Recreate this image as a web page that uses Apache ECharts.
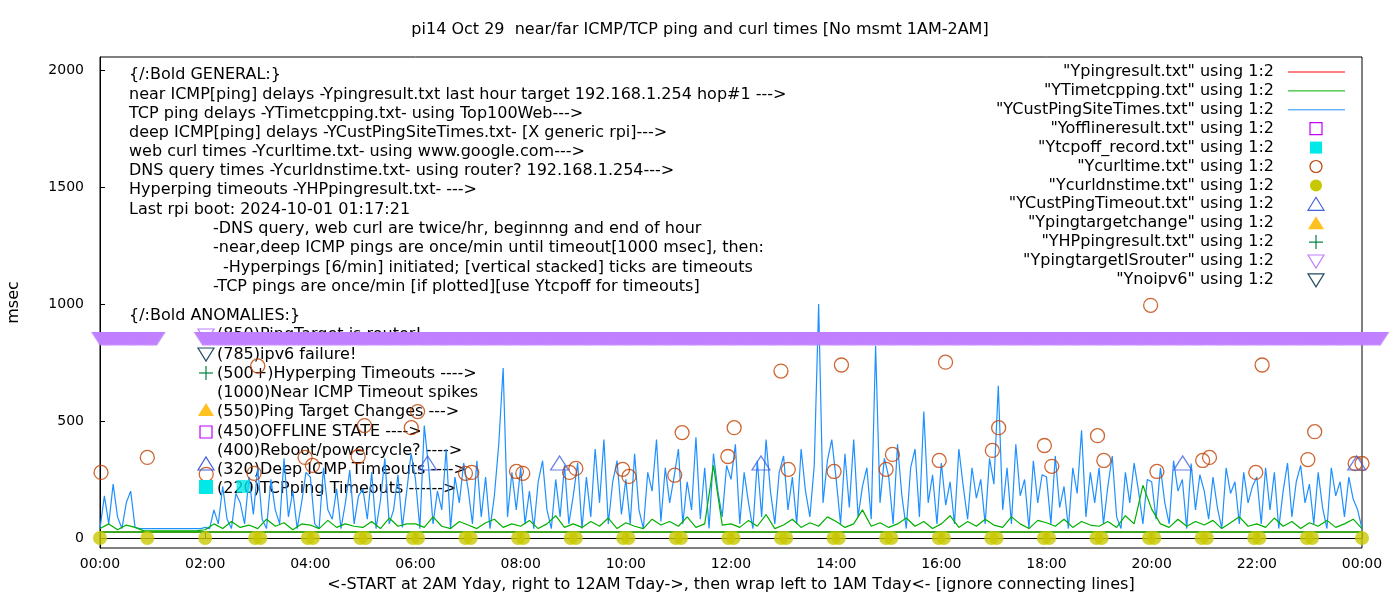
<!DOCTYPE html>
<html>
<head>
<meta charset="utf-8">
<script src="https://cdn.jsdelivr.net/npm/echarts@6/dist/echarts.min.js"></script>
<style>html,body{margin:0;padding:0;background:#fff}#main{width:1400px;height:600px}</style>
</head>
<body>
<div id="main"></div>
<script>
// deep ICMP (YCustPingSiteTimes), 5 min samples, hour by hour
var custPing = [
 40,180,60,230,90,40,150,200,45,40,40,40,
 40,40,40,40,40,40,40,40,40,40,40,40,
 45,40,120,60,220,80,40,190,150,60,260,100,
 300,80,40,250,120,60,340,90,200,40,150,280,
 260,60,40,300,120,80,210,40,150,290,60,180,
 210,80,280,40,160,340,60,120,270,45,200,360,
 250,40,480,300,60,200,120,380,40,260,150,320,
 210,60,330,90,260,40,180,400,726,90,280,120,
 300,60,200,40,240,330,120,40,250,90,310,60,
 180,320,40,260,90,380,150,420,60,240,330,100,
 250,60,360,120,40,280,200,420,70,300,150,260,
 380,60,240,120,430,80,300,40,360,200,90,310,
 250,400,60,280,150,40,330,90,420,200,60,280,
 350,120,260,60,380,200,90,310,1000,150,330,420,
 250,60,360,130,420,90,220,300,80,820,150,340,
 260,60,400,180,40,300,380,90,540,150,270,60,
 320,140,240,60,380,220,80,300,170,250,60,340,
 230,650,120,300,60,400,180,250,40,330,150,270,
 260,60,350,130,220,40,300,190,460,90,280,150,
 300,60,220,350,90,40,280,150,320,200,60,250,
 240,80,300,150,60,330,200,250,40,318,120,270,
 200,80,260,130,40,300,190,240,60,280,150,220,
 260,60,300,120,280,40,200,320,90,240,310,150,
 230,60,280,130,40,300,180,240,90,260,165,120,
 40
];
// TCP ping (YTimetcpping), 10 min samples
var tcpPing = [
 40,60,35,55,45,30, 30,30,30,30,30,30,
 35,60,40,70,45,55, 40,80,50,65,35,60,
 55,40,75,45,60,50, 45,70,40,85,50,60,
 60,45,90,50,40,70, 55,40,65,80,45,60,
 50,75,40,60,95,45, 60,45,70,50,85,40,
 65,50,40,80,55,70, 50,90,45,60,310,55,
 60,45,75,50,100,40, 55,80,45,65,50,90,
 70,45,60,120,50,65, 45,60,85,50,70,40,
 60,95,45,70,50,80, 55,45,90,60,40,75,
 65,50,80,45,70,55, 50,70,45,95,60,225,
 123,60,45,80,50,70, 55,75,40,65,90,50,
 60,45,85,50,70,40, 65,50,75,45,60,80,
 40
];
// near ICMP (Ypingresult), hourly, hidden under the TCP baseline
var nearPing = [25,25,25,25,25,25,25,25,25,25,25,25,25,25,25,25,25,25,25,25,25,25,25,25,25];
// web curl times [hour, msec]
var curlTimes = [
 [0.02,280],[0.9,344],[2.02,272],[2.93,276],[3.0,735],[3.9,344],[4.04,310],[4.91,348],
 [5.03,480],[5.92,471],[6.04,540],[6.95,276],[7.07,280],[7.92,284],[8.04,276],[8.93,280],
 [9.05,297],[9.94,293],[10.06,263],[10.93,268],[11.07,450],[11.94,348],[12.06,471],[12.95,713],
 [13.09,293],[13.96,284],[14.1,739],[14.95,293],[15.07,357],[15.96,331],[16.08,751],[16.97,374],
 [17.09,471],[17.96,395],[18.1,306],[18.97,437],[19.09,331],[19.98,994],[20.1,284],[20.97,331],
 [21.1,344],[21.98,280],[22.1,739],[22.97,335],[23.1,454],[23.87,318],[24.0,318]
];
// DNS query times (drawn at 0)
var dnsTimes = [0,0.9,2.0,2.95,3.05,3.95,4.05,4.95,5.05,5.95,6.05,6.95,7.05,7.95,8.05,8.95,9.05,
 9.95,10.05,10.95,11.05,11.95,12.05,12.95,13.05,13.95,14.05,14.95,15.05,15.95,16.05,16.95,17.05,
 17.95,18.05,18.95,19.05,19.95,20.05,20.95,21.05,21.95,22.05,22.95,23.05,24.0];
var custTimeouts = [[6.23,320],[8.74,320],[12.57,320],[20.59,320],[23.9,320]];
var tcpOff = [[2.72,220]];
// ping target is router (850) spans, hours
var routerSpans = [[-0.0,1.1],[1.95,24.35]];

var yTicks = [0,500,1000,1500,2000];

function hhmm(h){ var s = String(Math.round(h) % 24); return (s.length<2?'0'+s:s)+':00'; }
function stepSeries(arr, perHour){ return arr.map(function(v,i){ return [i/perHour, v]; }); }
var routerPts = [];
routerSpans.forEach(function(s){ for (var t=s[0]; t<=s[1]; t+=0.02) routerPts.push([t,850]); });

var F = 'DejaVu Sans';
var FS = '16px ';
var chart = echarts.init(document.getElementById('main'));

var infoLines = [
 [129,75,'{/:Bold GENERAL:}'],
 [129,95,'near ICMP[ping] delays -Ypingresult.txt last hour target 192.168.1.254 hop#1 --->'],
 [129,114,'TCP ping delays -YTimetcpping.txt- using Top100Web--->'],
 [129,133,'deep ICMP[ping] delays -YCustPingSiteTimes.txt- [X generic rpi]--->'],
 [129,152,'web curl times -Ycurltime.txt- using www.google.com--->'],
 [129,171,'DNS query times -Ycurldnstime.txt- using router? 192.168.1.254--->'],
 [129,190,'Hyperping timeouts -YHPpingresult.txt- --->'],
 [129,210,'Last rpi boot: 2024-10-01 01:17:21'],
 [213,229,'-DNS query, web curl are twice/hr, beginnng and end of hour'],
 [213,248,'-near,deep ICMP pings are once/min until timeout[1000 msec], then:'],
 [223,268,'-Hyperpings [6/min] initiated; [vertical stacked] ticks are timeouts'],
 [213,287,'-TCP pings are once/min [if plotted][use Ytcpoff for timeouts]'],
 [129,316,'{/:Bold ANOMALIES:}'],
 [217,335,'(850)PingTarget is router!'],
 [217,355,'(785)ipv6 failure!'],
 [217,374,'(500+)Hyperping Timeouts ---->'],
 [217,393,'(1000)Near ICMP Timeout spikes'],
 [217,412,'(550)Ping Target Changes --->'],
 [217,432,'(450)OFFLINE STATE ---->'],
 [217,451,'(400)Reboot/powercycle? ---->'],
 [217,470,'(320)Deep ICMP Timeouts ---->'],
 [217,489,'(220)TCPping Timeouts ------>']
];
var graphics = infoLines.map(function(l){
  return {type:'text', x:l[0], y:l[1], z:1, style:{text:l[2], font:FS+F, fill:'#000', textVerticalAlign:'middle'}};
});
function tri(x, y, down, style){
  var p = down ? [[x-8,y-6],[x+8,y-6],[x,y+7]] : [[x-8,y+6],[x+8,y+6],[x,y-7]];
  return {type:'polygon', shape:{points:p}, z:7, style:style};
}
function box(x, y, r, style){ return {type:'rect', shape:{x:x-r,y:y-r,width:2*r,height:2*r}, z:7, style:style}; }
function plus(x, y, color){
  return [{type:'line', shape:{x1:x-7,y1:y,x2:x+7,y2:y}, z:7, style:{stroke:color,lineWidth:1.2}},
          {type:'line', shape:{x1:x,y1:y-7,x2:x,y2:y+7}, z:7, style:{stroke:color,lineWidth:1.2}}];
}
// anomaly key symbols
graphics.push(tri(206,335,true,{fill:'none',stroke:'#c080ff',lineWidth:1.2}));
graphics.push(tri(206,354,true,{fill:'none',stroke:'#204a60',lineWidth:1.2}));
graphics = graphics.concat(plus(206,373,'#008040'));
graphics.push(tri(206,410,false,{fill:'#ffc020'}));
graphics.push(box(206,432,6,{fill:'none',stroke:'#c000ff',lineWidth:1.2}));
graphics.push(tri(206,464,false,{fill:'none',stroke:'#4060e0',lineWidth:1.2}));
graphics.push(box(206,487,7,{fill:'#00e8e8'}));
// key (right)
var keyNames = ['"Ypingresult.txt" using 1:2','"YTimetcpping.txt" using 1:2','"YCustPingSiteTimes.txt" using 1:2',
 '"Yofflineresult.txt" using 1:2','"Ytcpoff_record.txt" using 1:2','"Ycurltime.txt" using 1:2',
 '"Ycurldnstime.txt" using 1:2','"YCustPingTimeout.txt" using 1:2','"Ypingtargetchange" using 1:2',
 '"YHPpingresult.txt" using 1:2','"YpingtargetISrouter" using 1:2','"Ynoipv6" using 1:2'];
var ky = function(i){ return 72+i*18.9; };
var kx = 1316;
keyNames.forEach(function(n,i){
  graphics.push({type:'text', x:1274, y:ky(i), z:8, style:{text:n, font:FS+F, fill:'#000', textAlign:'right', textVerticalAlign:'middle'}});
});
graphics.push({type:'line', shape:{x1:1288,y1:ky(0),x2:1345,y2:ky(0)}, z:8, style:{stroke:'#ff0000',lineWidth:1}});
graphics.push({type:'line', shape:{x1:1288,y1:ky(1),x2:1345,y2:ky(1)}, z:8, style:{stroke:'#00b000',lineWidth:1}});
graphics.push({type:'line', shape:{x1:1288,y1:ky(2),x2:1345,y2:ky(2)}, z:8, style:{stroke:'#1e90ff',lineWidth:1}});
graphics.push(box(kx,ky(3),6,{fill:'none',stroke:'#c000ff',lineWidth:1.2}));
graphics.push(box(kx,ky(4),6,{fill:'#00e8e8'}));
graphics.push({type:'circle', shape:{cx:kx,cy:ky(5),r:6}, z:8, style:{fill:'none',stroke:'#c04000',lineWidth:1.2}});
graphics.push({type:'circle', shape:{cx:kx,cy:ky(6),r:6}, z:8, style:{fill:'#c8c800'}});
graphics.push(tri(kx,ky(7),false,{fill:'none',stroke:'#4060e0',lineWidth:1.2}));
graphics.push(tri(kx,ky(8),false,{fill:'#ffc020'}));
graphics = graphics.concat(plus(kx,ky(9),'#008040'));
graphics.push(tri(kx,ky(10),true,{fill:'none',stroke:'#c080ff',lineWidth:1.2}));
graphics.push(tri(kx,ky(11),true,{fill:'none',stroke:'#204a60',lineWidth:1.2}));

chart.setOption({
  animation: false,
  backgroundColor: '#fff',
  title: {text:'pi14 Oct 29  near/far ICMP/TCP ping and curl times [No msmt 1AM-2AM]', left:'center', top:17,
    textStyle:{fontFamily:F, fontSize:16, fontWeight:'normal', color:'#000'}},
  grid: {left:100, right:38, top:57, bottom:52, show:true, borderColor:'#000', borderWidth:1, outerBoundsMode:'none', containLabel:false},
  graphic: graphics,
  xAxis: {type:'value', min:0, max:24, interval:2,
    name:'<-START at 2AM Yday, right to 12AM Tday->, then wrap left to 1AM Tday<- [ignore connecting lines]',
    nameLocation:'middle', nameGap:29, nameTextStyle:{fontFamily:F, fontSize:16, color:'#000'},
    axisLine:{show:true, lineStyle:{color:'#000'}}, axisTick:{inside:true, length:5, lineStyle:{color:'#000'}},
    axisLabel:{formatter:hhmm, fontFamily:F, fontSize:14, color:'#000', margin:9}, splitLine:{show:false}},
  yAxis: {type:'value', min:-43, max:2055, name:'msec', nameLocation:'middle', nameGap:78,
    nameTextStyle:{fontFamily:F, fontSize:16, color:'#000'},
    axisLine:{show:true, lineStyle:{color:'#000'}},
    axisTick:{inside:true, length:5, customValues:yTicks, lineStyle:{color:'#000'}},
    axisLabel:{customValues:yTicks, formatter:function(v){return String(v);}, fontFamily:F, fontSize:14, color:'#000', margin:16}, splitLine:{show:false}},
  series: [
    {type:'line', data:nearPing.map(function(v,i){return [i,v];}), showSymbol:false, lineStyle:{color:'#ff0000',width:1}, z:1},
    {type:'line', data:stepSeries(tcpPing,6), showSymbol:false, lineStyle:{color:'#00b000',width:1.2}, z:3},
    {type:'line', data:stepSeries(custPing,12), showSymbol:false, lineStyle:{color:'#1e90ff',width:1.2}, z:2},
    {type:'line', data:nearPing.map(function(v,i){return [i,v];}), showSymbol:false, lineStyle:{color:'#00b000',width:1.5}, z:3, silent:true},
    {type:'scatter', data:tcpOff, symbol:'rect', symbolSize:13, itemStyle:{color:'#00e8e8'}, z:4},
    {type:'scatter', data:curlTimes, symbol:'circle', symbolSize:14, itemStyle:{color:'rgba(0,0,0,0)', borderColor:'#c04000', borderWidth:1.3}, z:5},
    {type:'scatter', data:dnsTimes.map(function(t){return [t,0];}), symbol:'circle', symbolSize:14, itemStyle:{color:'#c8c800'}, z:5},
    {type:'scatter', data:custTimeouts, symbol:'triangle', symbolSize:[18,14], itemStyle:{color:'rgba(0,0,0,0)', borderColor:'#4060e0', borderWidth:1.2}, z:5},
    {type:'scatter', data:routerPts, symbol:'triangle', symbolRotate:180, symbolSize:[18,14], itemStyle:{color:'#c080ff'}, z:6, clip:false}
  ]
});
</script>
</body>
</html>
